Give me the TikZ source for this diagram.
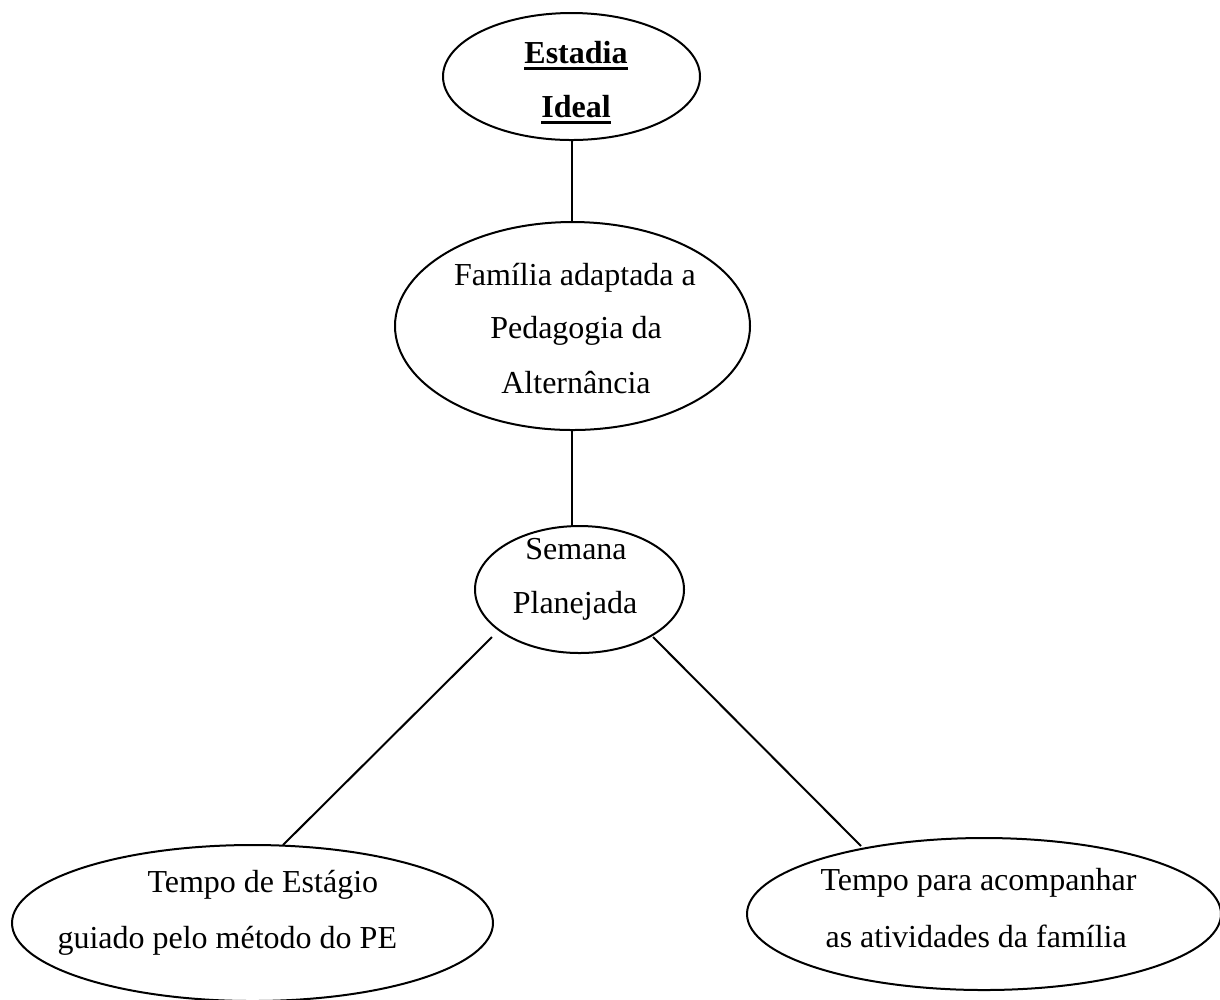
\documentclass[tikz,border=0pt]{standalone}
\usepackage{fontspec}
\setmainfont{Liberation Serif}
\usetikzlibrary{shapes.geometric}
\newcommand\thickul[1]{\leavevmode\vtop{\hbox{#1}\kern1.4pt\hrule height 1.1pt}}
\begin{document}
\begin{tikzpicture}[x=0.375pt,y=-0.375pt,
  ell/.style={draw,ellipse,line width=0.75pt,inner sep=0pt},
  txt/.style={inner sep=0pt,font=\fontsize{12}{14}\selectfont},
  conn/.style={line width=0.75pt}]
\useasboundingbox (0,0) rectangle (1220,999);
\clip (0,0) rectangle (1220,999);
% ellipses
\node[ell,minimum width={257*0.375pt},minimum height={127*0.375pt}] (top) at (571.5,76.5) {};
\node[ell,minimum width={355*0.375pt},minimum height={208*0.375pt}] (mid) at (572.5,326) {};
\node[ell,minimum width={209*0.375pt},minimum height={127*0.375pt}] (sem) at (579.5,589.5) {};
\node[ell,minimum width={481*0.375pt},minimum height={156*0.375pt}] (bl) at (252.5,923) {};
\node[ell,minimum width={474*0.375pt},minimum height={152*0.375pt}] (br) at (984,914) {};
% texts
\node[txt,anchor=base] (t1) at (576,63) {\thickul{\textbf{Estadia}}};
\node[txt,anchor=base] (t2) at (576,117) {\thickul{\textbf{Ideal}}};
\node[txt,anchor=base] (m1) at (575,285) {Família adaptada a};
\node[txt,anchor=base] (m2) at (576,338) {Pedagogia da};
\node[txt,anchor=base] (m3) at (576,393) {Alternância};
\node[txt,anchor=base] (s1) at (576,559) {Semana};
\node[txt,anchor=base] (s2) at (575,613) {Planejada};
\node[txt,anchor=base west] (b1) at (147,892) {Tempo de Estágio};
\node[txt,anchor=base west] (b2) at (57,948) {guiado pelo método do PE};
\node[txt,anchor=base west] (r1) at (820,890) {Tempo para acompanhar};
\node[txt,anchor=base west] (r2) at (825,947) {as atividades da família};
% connector ends
\coordinate (ls) at (492,637);
\coordinate (le) at (283,845);
\coordinate (rs) at (653,637);
\coordinate (re) at (861,846);
% connectors
\draw[conn] (top.south -| 572,0) -- (mid.north -| 572,0);
\draw[conn] (mid.south -| 572,0) -- (572,526);
\draw[conn] (ls) -- (le);
\draw[conn] (rs) -- (re);
\end{tikzpicture}
\end{document}
